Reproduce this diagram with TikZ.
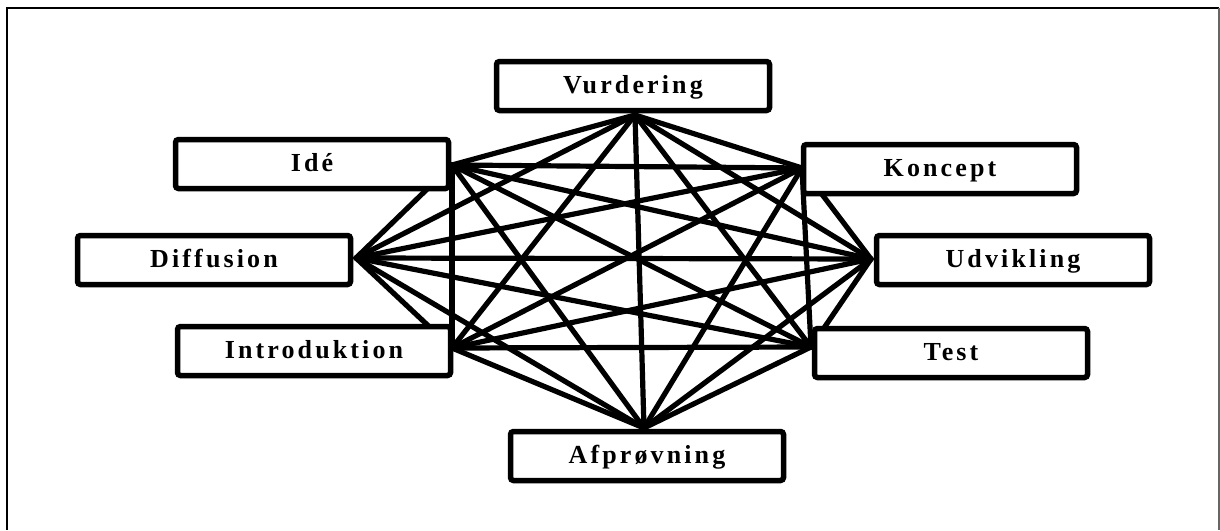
\documentclass[tikz,border=0pt]{standalone}
\usepackage{fontspec}
\newfontfamily\lblfont{Liberation Serif}[LetterSpace=12]
\begin{document}
\begin{tikzpicture}[x=1pt,y=-1pt,
  phase/.style={draw=black,line width=5.5pt,fill=white,rounded corners=3pt,
    minimum width=273pt,minimum height=49pt,inner sep=0pt,
    text height=15pt,text depth=0pt,
    font=\lblfont\bfseries\fontsize{26}{26}\selectfont},
  link/.style={line width=5.2pt,line cap=round},
  frameline/.style={line width=2.2pt}]
\useasboundingbox (0,0) rectangle (1220,530);

% outer frame (open at the bottom)
\draw[frameline] (7,530) -- (7,8) -- (1219,8);
\draw[line width=1.2pt,black!60] (1219,8) -- (1219,530);

% attachment points of the eight phases
\coordinate (pV) at (635,115);
\coordinate (pK) at (802,168);
\coordinate (pU) at (871,259);
\coordinate (pT) at (811,347);
\coordinate (pA) at (644,428);
\coordinate (pI) at (452,348);
\coordinate (pD) at (356,258);
\coordinate (pE) at (452,165);

% every phase is linked to every other phase
\foreach \a/\rest in {pV/{pK,pU,pT,pA,pI,pD,pE},
                      pK/{pU,pT,pA,pI,pD,pE},
                      pU/{pT,pA,pI,pD,pE},
                      pT/{pA,pI,pD,pE},
                      pA/{pI,pD,pE},
                      pI/{pD,pE},
                      pD/{pE}}{
  \foreach \b in \rest { \draw[link] (\a) -- (\b); }
}

% phase boxes
\node[phase] (vurd)  at (633,86)  {Vurdering};
\node[phase] (ide)   at (312,164) {Idé};
\node[phase] (konc)  at (940,169) {Koncept};
\node[phase] (diff)  at (214,260) {Diffusion};
\node[phase] (udv)   at (1013,260){Udvikling};
\node[phase] (intro) at (314,351) {Introduktion};
\node[phase] (test)  at (951,353) {Test};
\node[phase] (afpr)  at (647,456) {Afprøvning};
\end{tikzpicture}
\end{document}
